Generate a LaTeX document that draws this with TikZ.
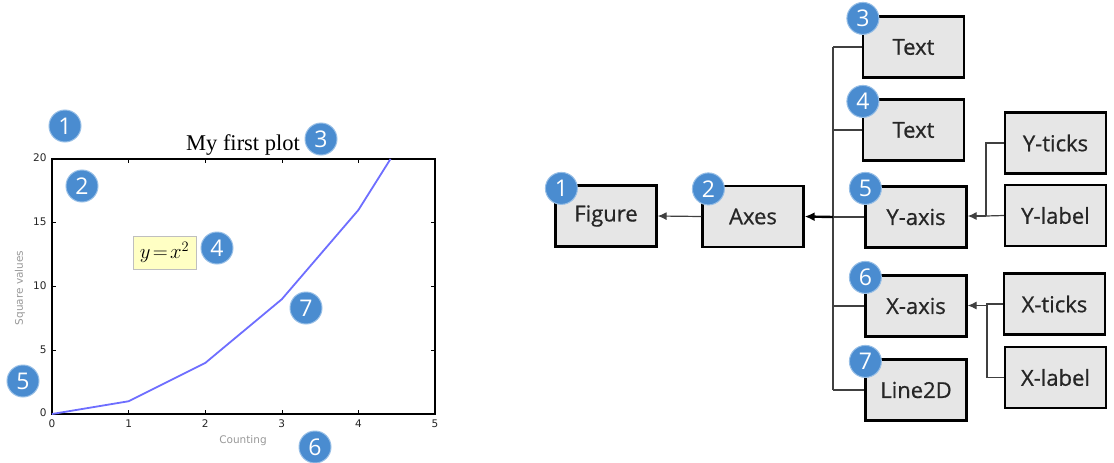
\documentclass[tikz,border=0pt]{standalone}
\usepackage{fontspec}
\setmainfont{Open Sans}
\newfontfamily\boxfont[FakeBold=0.7]{Open Sans}
\newfontfamily\serifttl{Liberation Serif}
\newfontfamily\dejavu{DejaVu Sans}
\usetikzlibrary{arrows.meta}
\definecolor{badgeblue}{RGB}{74,140,208}
\definecolor{badgering}{RGB}{150,190,230}
\definecolor{boxgray}{RGB}{230,230,230}
\definecolor{linegray}{RGB}{64,64,64}
\definecolor{plotblue}{RGB}{110,110,255}
\definecolor{eqyellow}{RGB}{255,255,196}
\tikzset{
  badge/.style={circle,fill=badgeblue,draw=badgering,line width=1pt,text=white,minimum size=32pt,inner sep=0pt,font=\fontsize{23}{23}\selectfont},
  objbox/.style={draw=black,line width=2.2pt,fill=boxgray,minimum width=101pt,minimum height=61pt,inner sep=0pt,text=black!85,font=\boxfont\fontsize{22}{24}\selectfont},
  branch/.style={draw=linegray,line width=1.2pt},
  thinarrow/.style={draw=linegray,line width=1.2pt,-{Latex[length=9pt,width=8pt]}},
  thickarrow/.style={draw=black,line width=2.4pt,-{Latex[length=10pt,width=9pt]}},
  ticklab/.style={font=\dejavu\fontsize{10.5}{10.5}\selectfont,text=black!85},
  axlab/.style={font=\dejavu\fontsize{10.5}{10.5}\selectfont,text=black!40},
}
\begin{document}
\begin{tikzpicture}[x=1pt,y=-1pt]
\useasboundingbox[fill=white] (0,0) rectangle (1114,463);

% ---------------- left: plot ----------------
\draw[line width=1.3pt] (52,159) rectangle (435,414);
\foreach \i in {1,...,4}{
  \draw[line width=0.6pt] ({52+\i*76.6},414) -- ++(0,-4);
  \draw[line width=0.6pt] ({52+\i*76.6},159) -- ++(0,4);
}
\foreach \j in {1,2,3}{
  \draw[line width=0.6pt] (52,{414-\j*63.75}) -- ++(4,0);
  \draw[line width=0.6pt] (435,{414-\j*63.75}) -- ++(-4,0);
}
\foreach \i in {0,...,5}{
  \node[ticklab] (xt\i) at ({52+\i*76.6},424) {\i};
}
\node[ticklab,anchor=east] (yt0) at (50,413) {0};
\node[ticklab,anchor=east] (yt5) at (50,350) {5};
\node[ticklab,anchor=east] (yt10) at (50,286) {10};
\node[ticklab,anchor=east] (yt15) at (50,222) {15};
\node[ticklab,anchor=east] (yt20) at (50,158) {20};
\node[axlab] (xlab) at (243,441) {Counting};
\node[axlab,rotate=90] (ylab) at (20,288) {Square values};
\node[font=\serifttl\fontsize{22.5}{22.5}\selectfont] (title) at (243,145) {My first plot};

\draw[plotblue,line width=1.8pt,line join=round]
  (52,414) -- (128.6,401.25) -- (205.2,363) -- (281.8,299.25) -- (358.4,210) -- (390.5,159);

\node[fill=eqyellow,draw=black!25,line width=0.6pt,minimum width=63pt,minimum height=33pt,inner sep=0pt] (eq) at (164.5,252.5) {\fontsize{21}{21}\selectfont$y\!=\!x^2$};

\node[badge] (b1) at (65,126) {1};
\node[badge] (b2) at (82,186) {2};
\node[badge] (b3) at (321,139) {3};
\node[badge] (b4) at (217,248) {4};
\node[badge] (b5) at (23,381) {5};
\node[badge] (b6) at (315,447) {6};
\node[badge] (b7) at (306,308) {7};

% ---------------- right: hierarchy ----------------
\node[objbox] (figure) at (606,216) {Figure};
\node[objbox] (axes) at (753,216.5) {Axes};
\node[objbox] (text3) at (913.5,47) {Text};
\node[objbox] (text4) at (913.5,130) {Text};
\node[objbox] (yaxis) at (916,217) {Y-axis};
\node[objbox] (xaxis) at (916,306) {X-axis};
\node[objbox] (line2d) at (916,390) {Line2D};
\node[objbox] (yticks) at (1055.5,143) {Y-ticks};
\node[objbox] (ylabel) at (1055.5,215.5) {Y-label};
\node[objbox] (xticks) at (1054.5,304) {X-ticks};
\node[objbox] (xlabel) at (1055.5,377.5) {X-label};

\coordinate (tk) at (833,217);
\coordinate (ys) at (986,216);
\coordinate (xs) at (987,305.5);

\draw[branch] (tk|-text3.west) -- (tk|-line2d.west);
\draw[branch] (text3.west) -- (tk|-text3.west);
\draw[branch] (text4.west) -- (tk|-text4.west);
\draw[branch] (yaxis.west) -- (tk|-yaxis.west);
\draw[branch] (xaxis.west) -- (tk|-xaxis.west);
\draw[branch] (line2d.west) -- (tk|-line2d.west);
\draw[thickarrow] (tk) -- (axes.east);
\draw[thinarrow] (axes.west) -- (figure.east);

\draw[branch] (yticks.west) -| (ys);
\draw[branch] (ylabel.west) -- (ys);
\draw[thinarrow] (ys) -- (yaxis.east|-ys);
\draw[branch] (xticks.west) -| (xs);
\draw[branch] (xlabel.west) -| (xs);
\draw[thinarrow] (xs) -- (xaxis.east|-xs);

\node[badge] (r1) at ([shift={(7,4)}]figure.north west) {1};
\node[badge] (r2) at ([shift={(7,4)}]axes.north west) {2};
\node[badge] (r3) at ([shift={(1,3)}]text3.north west) {3};
\node[badge] (r4) at ([shift={(1,3)}]text4.north west) {4};
\node[badge] (r5) at ([shift={(1,3)}]yaxis.north west) {5};
\node[badge] (r6) at ([shift={(1,3)}]xaxis.north west) {6};
\node[badge] (r7) at ([shift={(1,3)}]line2d.north west) {7};
\end{tikzpicture}
\end{document}
